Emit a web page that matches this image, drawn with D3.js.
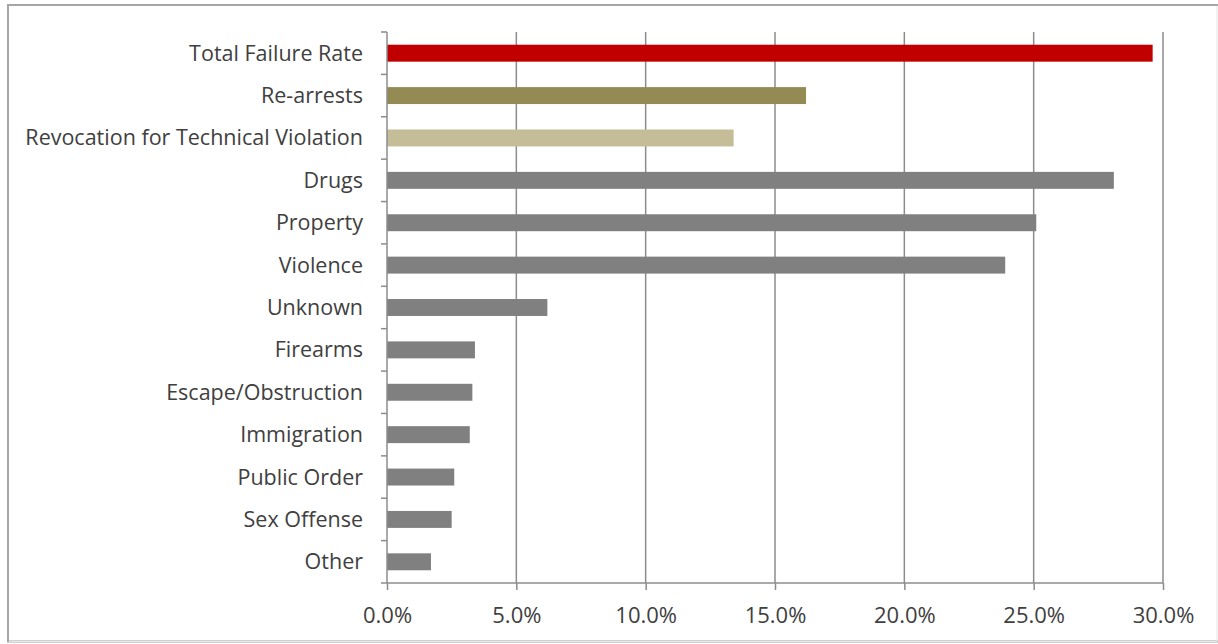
<!DOCTYPE html>
<html>
<head>
<meta charset="utf-8">
<script src="https://cdn.jsdelivr.net/npm/d3@7"></script>
<style>
  html, body { margin: 0; padding: 0; background: #fff; }
  svg { display: block; }
</style>
</head>
<body>
<svg id="chart" width="1218" height="644"></svg>
<script>
// Failure rates by type (share of releases, %)
const categories = [
  "Total Failure Rate", "Re-arrests", "Revocation for Technical Violation",
  "Drugs", "Property", "Violence", "Unknown", "Firearms",
  "Escape/Obstruction", "Immigration", "Public Order", "Sex Offense", "Other"
];
const values = [29.6, 16.2, 13.4, 28.1, 25.1, 23.9, 6.2, 3.4, 3.3, 3.2, 2.6, 2.5, 1.7];
const barColors = [
  "#c00000", "#948a54", "#c4bd97",
  "#808080", "#808080", "#808080", "#808080", "#808080",
  "#808080", "#808080", "#808080", "#808080", "#808080"
];
const xTicks = [0, 5, 10, 15, 20, 25, 30];

const svg = d3.select("#chart");
const W = 1218, H = 644;
const margin = { left: 387, right: 55, top: 32, bottom: 61 };
const font = "'Open Sans', Lato, sans-serif";

// outer frame: darker top and left edges, faint right and bottom edges
svg.append("path")
  .attr("d", `M${W},${H - 2.5}H8V5H${W}`)
  .attr("fill", "none")
  .attr("stroke", "#a6a6a6").attr("stroke-width", 2);
svg.append("path")
  .attr("d", `M${W - 1},6V${H - 2.5}H9`)
  .attr("fill", "none")
  .attr("stroke", "#e6e6e6").attr("stroke-width", 1);

const x = d3.scaleLinear().domain([0, 30]).range([margin.left, W - margin.right]);
const y = d3.scaleBand().domain(categories)
  .range([margin.top, H - margin.bottom])
  .paddingInner(0.6).paddingOuter(0.3);

const grid = "#8c8c8c";

// vertical gridlines
svg.append("g").selectAll("line")
  .data(xTicks.slice(1))
  .join("line")
  .attr("x1", d => x(d)).attr("x2", d => x(d))
  .attr("y1", margin.top).attr("y2", H - margin.bottom)
  .attr("stroke", grid).attr("stroke-width", 1.5);

// bars
svg.append("g").selectAll("rect")
  .data(categories)
  .join("rect")
  .attr("x", x(0))
  .attr("y", d => y(d))
  .attr("width", (d, i) => x(values[i]) - x(0))
  .attr("height", y.bandwidth())
  .attr("fill", (d, i) => barColors[i]);

// x axis
const xAxis = d3.axisBottom(x)
  .tickValues(xTicks)
  .tickFormat(d => d.toFixed(1) + "%")
  .tickSize(7)
  .tickPadding(17);
const gx = svg.append("g")
  .attr("transform", `translate(0,${H - margin.bottom})`)
  .call(xAxis);
gx.select(".domain").remove();
gx.append("line")
  .attr("x1", x(0) - 6).attr("x2", x(30))
  .attr("stroke", grid).attr("stroke-width", 1.5);
gx.selectAll(".tick line").attr("stroke", grid).attr("stroke-width", 1.5);
gx.selectAll(".tick text")
  .attr("fill", "#404040")
  .style("font-family", font)
  .style("font-size", "22px");

// y axis with category boundary ticks
const step = y.step();
const bounds = d3.range(categories.length + 1).map(i => margin.top + i * step);
const gy = svg.append("g");
gy.append("line")
  .attr("x1", x(0)).attr("x2", x(0))
  .attr("y1", margin.top).attr("y2", H - margin.bottom)
  .attr("stroke", grid).attr("stroke-width", 1.5);
gy.selectAll("line.b")
  .data(bounds.slice(0, -1))
  .join("line").attr("class", "b")
  .attr("x1", x(0) - 6).attr("x2", x(0))
  .attr("y1", d => d).attr("y2", d => d)
  .attr("stroke", grid).attr("stroke-width", 1.5);
gy.selectAll("text")
  .data(categories)
  .join("text")
  .attr("x", 363)
  .attr("y", d => y(d) + y.bandwidth() / 2)
  .attr("dy", "0.35em")
  .attr("text-anchor", "end")
  .attr("fill", "#404040")
  .style("font-family", font)
  .style("font-size", "21.5px")
  .text(d => d);
</script>
</body>
</html>
